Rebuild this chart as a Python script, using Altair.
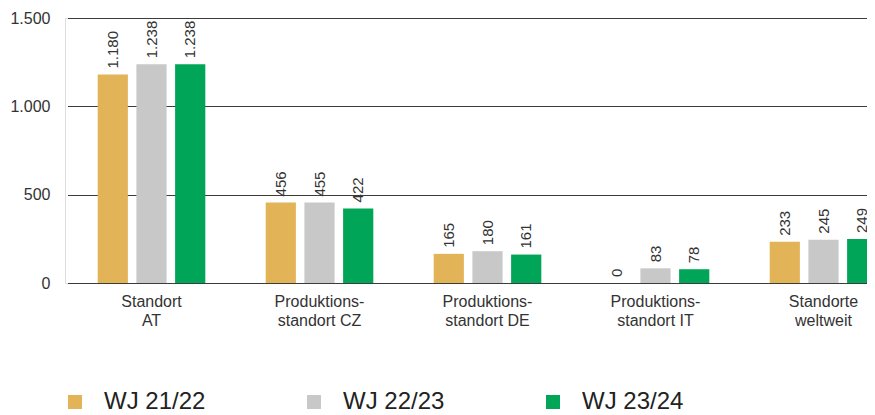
import altair as alt
import pandas as pd

categories = [
    "Standort\nAT",
    "Produktions-\nstandort CZ",
    "Produktions-\nstandort DE",
    "Produktions-\nstandort IT",
    "Standorte\nweltweit",
]
series = ["WJ 21/22", "WJ 22/23", "WJ 23/24"]
wj_21_22 = [1180, 456, 165, 0, 233]
wj_22_23 = [1238, 455, 180, 83, 245]
wj_23_24 = [1238, 422, 161, 78, 249]
colors = ["#E2B457", "#C8C8C8", "#00A557"]
y_ticks = [0, 500, 1000, 1500]

rows = []
for s, vals in zip(series, [wj_21_22, wj_22_23, wj_23_24]):
    for c, v in zip(categories, vals):
        rows.append({"Standort": c, "Jahr": s, "Wert": v,
                     "Label": f"{v:,}".replace(",", ".")})
df = pd.DataFrame(rows)

FONT = "Liberation Sans"

x_enc = alt.X(
    "Standort:N", sort=categories,
    scale=alt.Scale(range=[2.5, 842.5], paddingInner=0, paddingOuter=0),
    axis=alt.Axis(title=None, labelAngle=0, labelExpr="split(datum.label, '\\n')",
                  labelFontSize=16, labelColor="#333333", labelFont=FONT,
                  labelPadding=10, labelLineHeight=19, ticks=False, domain=False,
                  labelLimit=0),
)
xoff_enc = alt.XOffset("Jahr:N", sort=series,
                       scale=alt.Scale(paddingInner=0.22, paddingOuter=0.78))
y_enc = alt.Y(
    "Wert:Q", scale=alt.Scale(domain=[0, 1500], nice=False),
    axis=alt.Axis(title=None, values=y_ticks, labelExpr="replace(datum.label, ',', '.')",
                  grid=True, gridColor="#3c3c3c", gridWidth=1, domain=False, ticks=False,
                  labelPadding=15, labelFontSize=16, labelColor="#333333", labelFont=FONT),
)

base = alt.Chart(df)

bars = base.mark_bar(clip=True).encode(
    x=x_enc, xOffset=xoff_enc, y=y_enc,
    color=alt.Color(
        "Jahr:N", sort=series,
        scale=alt.Scale(domain=series, range=colors),
        legend=alt.Legend(title=None, orient="none", direction="horizontal",
                          legendX=-2, legendY=372, padding=0,
                          symbolType="square", symbolSize=196, symbolStrokeWidth=0,
                          labelFontSize=24, labelFont=FONT, labelColor="#222222",
                          labelOffset=17, columnPadding=96, labelLimit=0),
    ),
)

labels = base.mark_text(angle=270, align="left", baseline="middle", dx=6,
                        fontSize=15, font=FONT, color="#333333", clip=True).encode(
    x=x_enc, xOffset=xoff_enc, y=y_enc, text="Label:N",
)

chart = alt.layer(bars, labels).properties(
    width=802, height=265,
    autosize=alt.AutoSizeParams(type="none"),
    padding={"left": 57, "top": 10, "right": 0, "bottom": 135},
).configure_view(stroke=None).configure(font=FONT)

chart.save("out.html", embed_options={"renderer": "svg", "actions": False})
